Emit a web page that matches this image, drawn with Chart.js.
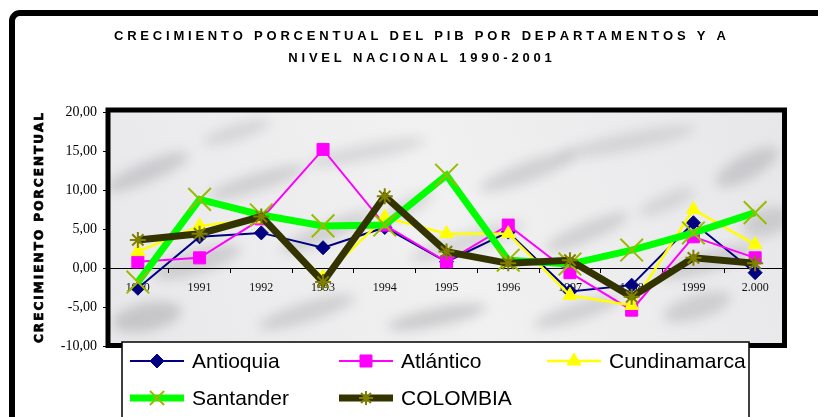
<!DOCTYPE html>
<html><head><meta charset="utf-8">
<script src="https://cdn.jsdelivr.net/npm/chart.js@4"></script>
<style>html,body{margin:0;padding:0;background:#fff;}canvas{display:block}</style>
</head><body>
<canvas id="c" width="818" height="417"></canvas>
<script>
// ---- data ----
const years = ['1990','1991','1992','1993','1994','1995','1996','1997','1998','1999','2.000'];
const antioquia    = [-2.6, 4.0, 4.5, 2.6, 5.2, 0.8, 4.6, -3.0, -2.2, 5.8, -0.6];
const atlantico    = [0.8, 1.3, 6.3, 15.2, 5.5, 0.8, 5.5, -0.6, -5.4, 4.0, 1.3];
const cundinamarca = [2.1, 5.4, 6.3, -1.2, 6.5, 4.4, 4.4, -3.5, -4.8, 7.5, 3.0];
const santander    = [-1.8, 8.8, 6.8, 5.4, 5.5, 11.9, 1.0, 0.5, 2.3, 4.5, 7.1];
const colombia     = [3.6, 4.4, 6.6, -1.8, 9.2, 2.1, 0.6, 1.0, -3.7, 1.3, 0.6];
const seriesNames  = ['Antioquia','Atlántico','Cundinamarca','Santander','COLOMBIA'];
const yMin = -10, yMax = 20, yStep = 5;
const titleLines = ['CRECIMIENTO PORCENTUAL DEL PIB POR DEPARTAMENTOS Y A','NIVEL NACIONAL 1990-2001'];
const yTitle = 'CRECIMIENTO PORCENTUAL';

// ---- styles ----
const styles = [
  {color:'#000080', width:2,   point:'rectRot',  pColor:'#000080', r:7,  pw:1},
  {color:'#FF00FF', width:2,   point:'rect',     pColor:'#FF00FF', r:8.5,pw:1},
  {color:'#FFFF00', width:2.5, point:'triangle', pColor:'#FFFF00', r:8,  pw:1},
  {color:'#00FF00', width:7,   point:'crossRot', pColor:'#99BB00', r:16, pw:2},
  {color:'#333300', width:7,   point:'star',     pColor:'#808000', r:8,  pw:2}
];
const seriesData = [antioquia, atlantico, cundinamarca, santander, colombia];

const datasets = seriesData.map((d,i)=>({
  label: seriesNames[i], data: d,
  borderColor: styles[i].color, borderWidth: styles[i].width,
  pointStyle: styles[i].point, pointRadius: styles[i].r,
  pointBackgroundColor: styles[i].pColor, pointBorderColor: styles[i].pColor,
  pointBorderWidth: styles[i].pw, tension: 0, fill: false,
  order: 5 - i
}));

// decorative marble texture blotches (x,y relative to plot area, rx, ry, rotation, alpha)
const blotches = [
  [40,60,45,10,-0.4,0.28],[150,70,50,9,-0.3,0.25],[260,40,60,8,-0.2,0.2],[420,60,50,10,-0.35,0.25],
  [520,30,70,9,-0.2,0.2],[640,55,35,12,-0.5,0.28],[90,150,45,12,-0.3,0.25],[220,120,50,9,-0.4,0.25],
  [360,130,60,10,-0.3,0.2],[480,120,45,9,-0.4,0.25],[600,150,50,10,-0.3,0.25],[40,205,35,14,-0.2,0.3],
  [200,200,50,10,-0.3,0.25],[330,205,50,9,-0.2,0.3],[470,200,45,9,-0.3,0.25],[590,195,35,12,-0.3,0.25],
  [660,110,25,14,-0.3,0.25],[130,20,35,8,-0.3,0.2],[300,95,30,8,-0.5,0.2],[560,90,30,8,-0.4,0.2]
];

const bgPlugin = {
  id:'bg',
  beforeDraw(chart){
    const ctx = chart.ctx, a = chart.chartArea;
    ctx.save();
    ctx.fillStyle = '#ffffff'; ctx.fillRect(0,0,chart.width,chart.height);
    ctx.beginPath(); ctx.rect(a.left,a.top,a.right-a.left,a.bottom-a.top); ctx.clip();
    const g = ctx.createLinearGradient(a.left,a.bottom,a.right,a.top);
    g.addColorStop(0,'#e8e8ea'); g.addColorStop(0.5,'#f1f1f2'); g.addColorStop(1,'#e7e7e9');
    ctx.fillStyle = g; ctx.fillRect(a.left,a.top,a.right-a.left,a.bottom-a.top);
    ctx.filter = 'blur(6px)';
    blotches.forEach(b=>{
      ctx.fillStyle = 'rgba(120,120,124,'+b[5]+')';
      ctx.beginPath(); ctx.ellipse(a.left+b[0],a.top+b[1],b[2],b[3],b[4],0,Math.PI*2); ctx.fill();
    });
    ctx.filter = 'none';
    ctx.restore();
  }
};

function spacedText(ctx, text, x, y, spacing, stroke){
  let cx = x;
  for (const ch of text){
    ctx.fillText(ch, cx, y);
    if (stroke) ctx.strokeText(ch, cx, y);
    cx += ctx.measureText(ch).width + spacing;
  }
}
function spacedWidth(ctx, text){
  let w = 0; for (const ch of text) w += ctx.measureText(ch).width; return w;
}

const framePlugin = {
  id:'frame',
  afterDatasetsDraw(chart){
    const ctx = chart.ctx, a = chart.chartArea;
    ctx.save();
    ctx.strokeStyle = '#000'; ctx.lineWidth = 5;
    ctx.strokeRect(a.left+1, a.top-2, (a.right-a.left)-2.5, (a.bottom-a.top)+1.5);
    ctx.restore();
  },
  afterDraw(chart){
    const ctx = chart.ctx;
    ctx.save();
    // outer frame
    ctx.strokeStyle = '#000'; ctx.lineWidth = 6;
    ctx.beginPath(); ctx.moveTo(12, 440); ctx.lineTo(12, 21);
    ctx.arcTo(12, 13, 20, 13, 8); ctx.lineTo(840, 13); ctx.stroke();
    // title
    ctx.fillStyle = '#000'; ctx.textBaseline = 'middle'; ctx.textAlign = 'left';
    ctx.font = 'bold 13px "Liberation Sans", Arial, sans-serif';
    const t1 = titleLines[0];
    const s = (612 - spacedWidth(ctx,t1)) / (t1.length - 1);
    titleLines.forEach((t,i)=>{
      const w = spacedWidth(ctx,t) + s*(t.length-1);
      spacedText(ctx, t, 420 - w/2, 36 + i*22, s, false);
    });
    // y title
    ctx.font = 'bold 12px "DejaVu Sans", sans-serif';
    ctx.strokeStyle = '#000'; ctx.lineWidth = 0.7;
    const ys = (230 - spacedWidth(ctx,yTitle)) / (yTitle.length - 1);
    ctx.translate(40, 228); ctx.rotate(-Math.PI/2);
    spacedText(ctx, yTitle, -115, 0, ys, true);
    ctx.restore();
    // legend
    ctx.save();
    ctx.fillStyle = '#fff'; ctx.fillRect(122, 342, 627, 80);
    ctx.strokeStyle = '#000'; ctx.lineWidth = 1.5; ctx.strokeRect(122, 342, 627, 80);
    const cols = [130, 339, 547], rows = [361, 398];
    ctx.font = '21px "Liberation Sans", Arial, sans-serif';
    ctx.textBaseline = 'middle'; ctx.textAlign = 'left';
    seriesNames.forEach((name,i)=>{
      const st = styles[i];
      const x0 = cols[i%3], y = rows[Math.floor(i/3)];
      ctx.strokeStyle = st.color; ctx.lineWidth = st.width;
      ctx.beginPath(); ctx.moveTo(x0, y); ctx.lineTo(x0+54, y); ctx.stroke();
      ctx.fillStyle = st.pColor; ctx.strokeStyle = st.pColor; ctx.lineWidth = st.pw;
      Chart.helpers.drawPoint(ctx, {pointStyle: st.point, radius: i===3 ? 10 : (i===4 ? 7 : st.r), rotation: 0, borderWidth: st.pw}, x0+27, y);
      ctx.fillStyle = '#000';
      ctx.fillText(name, x0+62, y+1);
    });
    ctx.restore();
  }
};

new Chart(document.getElementById('c'), {
  type: 'line',
  data: { labels: years, datasets },
  plugins: [bgPlugin, framePlugin],
  options: {
    responsive: false, animation: false, devicePixelRatio: 1,
    layout: { padding: { left: 0, top: 112, right: 32, bottom: 71 } },
    plugins: { legend: { display: false }, title: { display: false }, tooltip: { enabled: false } },
    scales: {
      x: {
        type: 'category', position: { y: 0 }, offset: true,
        grid: { offset: true, drawOnChartArea: false, drawTicks: true, tickLength: 4, color: '#000' },
        border: { display: true, color: '#000', width: 1 },
        ticks: { font: { family: '"Liberation Serif", serif', size: 12 }, color: '#111', padding: 9, maxRotation: 0, autoSkip: false }
      },
      y: {
        min: yMin, max: yMax,
        afterFit(s){ s.width = 107; },
        grid: { drawOnChartArea: false, drawTicks: true, tickLength: 4, color: '#000' },
        border: { display: false },
        ticks: { stepSize: yStep, padding: 6, color: '#000',
          font: { family: '"Liberation Serif", serif', size: 14 },
          callback: v => v.toFixed(2).replace('.', ',') }
      }
    }
  }
});
</script>
</body></html>
